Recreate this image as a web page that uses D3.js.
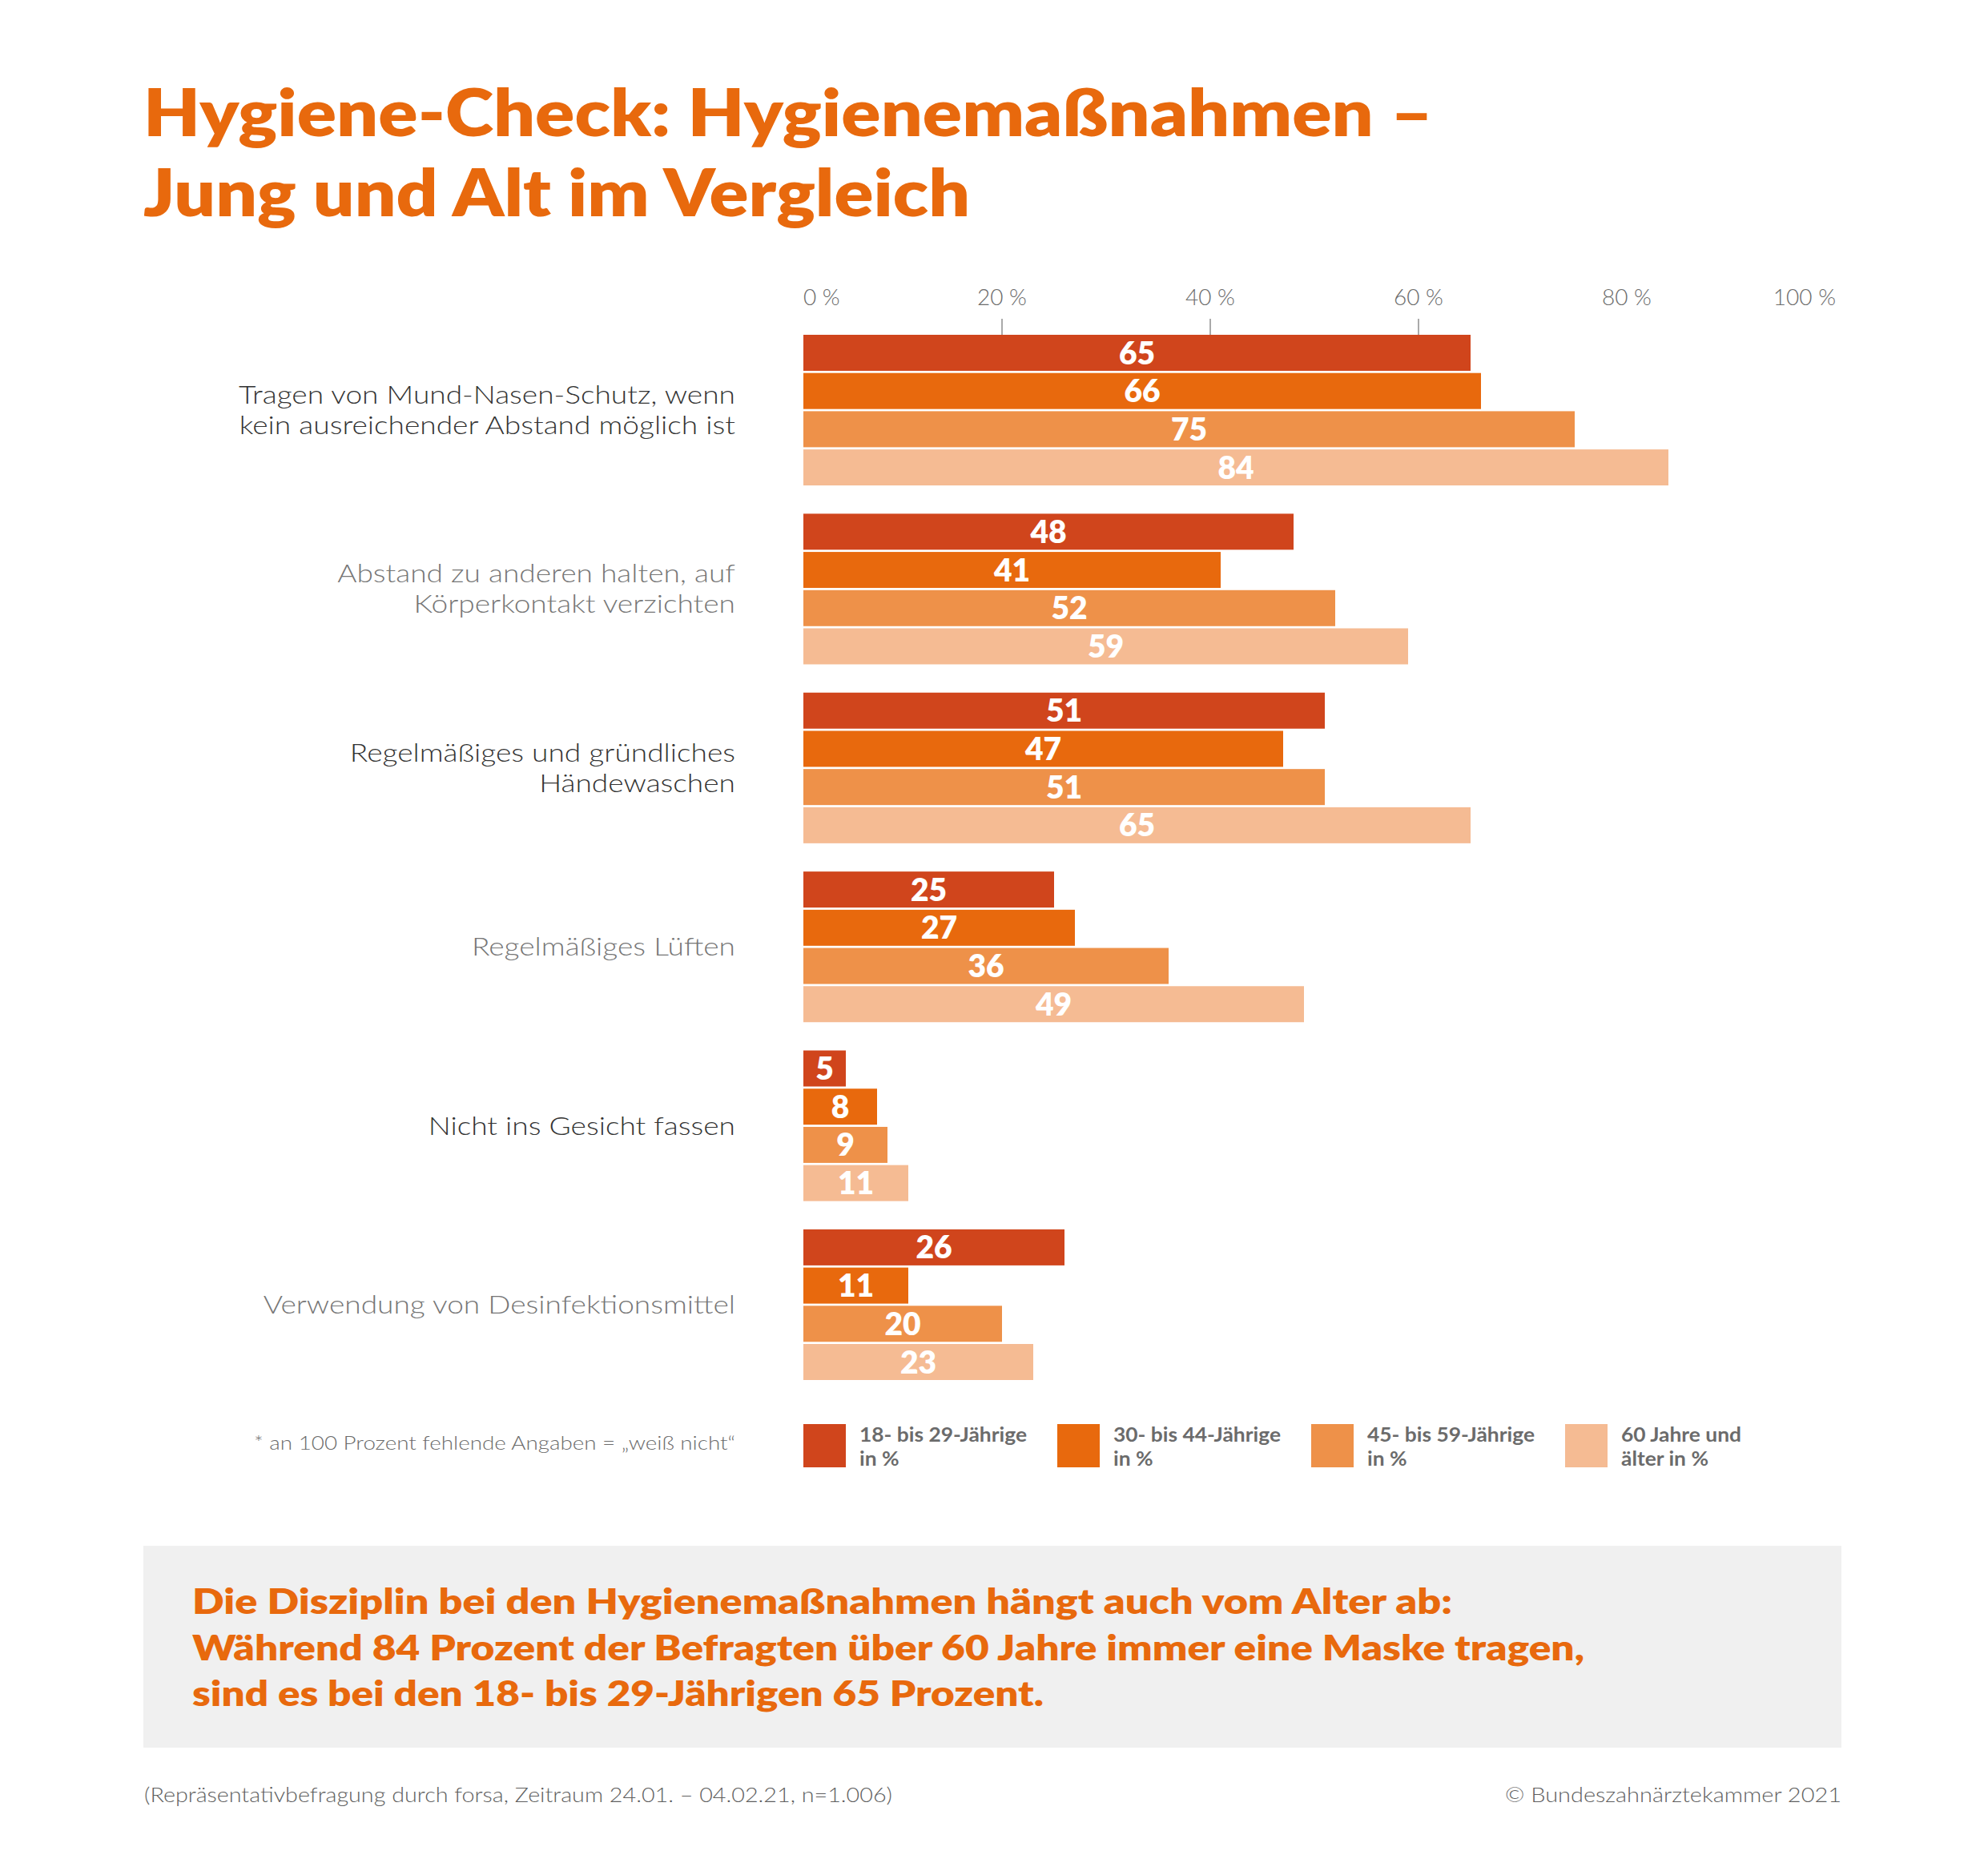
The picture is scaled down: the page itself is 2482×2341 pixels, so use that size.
<!DOCTYPE html>
<html>
<head>
<meta charset="utf-8">
<script src="https://cdn.jsdelivr.net/npm/d3@7"></script>
<style>
  html, body { margin: 0; padding: 0; background: #ffffff; }
  svg { display: block; }
</style>
</head>
<body>
<div id="chart"></div>
<script>
// ---------- DATA ----------
const categories = [
  "Tragen von Mund-Nasen-Schutz, wenn\nkein ausreichender Abstand möglich ist",
  "Abstand zu anderen halten, auf\nKörperkontakt verzichten",
  "Regelmäßiges und gründliches\nHändewaschen",
  "Regelmäßiges Lüften",
  "Nicht ins Gesicht fassen",
  "Verwendung von Desinfektionsmittel"
];
const seriesNames = [
  "18- bis 29-Jährige\nin %",
  "30- bis 44-Jährige\nin %",
  "45- bis 59-Jährige\nin %",
  "60 Jahre und\nälter in %"
];
const values18to29 = [65, 48, 51, 25, 5, 26];
const values30to44 = [66, 41, 47, 27, 8, 11];
const values45to59 = [75, 52, 51, 36, 9, 20];
const values60plus = [84, 59, 65, 49, 11, 23];
const tickValues = [0, 20, 40, 60, 80, 100];
const tickLabels = ["0 %", "20 %", "40 %", "60 %", "80 %", "100 %"];
const tickMarks = [20, 40, 60];

const titleLines = ["Hygiene-Check: Hygienemaßnahmen –", "Jung und Alt im Vergleich"];
const boxLines = [
  "Die Disziplin bei den Hygienemaßnahmen hängt auch vom Alter ab:",
  "Während 84 Prozent der Befragten über 60 Jahre immer eine Maske tragen,",
  "sind es bei den 18- bis 29-Jährigen 65 Prozent."
];
const footnote = "* an 100 Prozent fehlende Angaben = „weiß nicht“";
const sourceText = "(Repräsentativbefragung durch forsa, Zeitraum 24.01. – 04.02.21, n=1.006)";
const copyrightText = "© Bundeszahnärztekammer 2021";

const seriesValues = [values18to29, values30to44, values45to59, values60plus];

// ---------- STYLE ----------
const W = 2482, H = 2341;
const colors = ["#D0451C", "#E8690D", "#EE9149", "#F5BB93"];
const orange = "#E8690D";
const FONT = "Lato, 'Open Sans', 'DejaVu Sans', sans-serif";

const svg = d3.select("#chart").append("svg")
  .attr("width", W).attr("height", H)
  .style("background", "#fff");

function stretchTo(sel, target) {
  sel.each(function () {
    const L = this.getComputedTextLength();
    if (L > 0) d3.select(this).attr("textLength", target).attr("lengthAdjust", "spacingAndGlyphs");
  });
}
function stretchBy(sel, k) {
  sel.each(function () {
    const L = this.getComputedTextLength();
    if (L > 0) d3.select(this).attr("textLength", L * k).attr("lengthAdjust", "spacingAndGlyphs");
  });
}

// ---------- TITLE ----------
const titleWidths = [1610, 1032];
titleLines.forEach((t, i) => {
  const el = svg.append("text")
    .attr("x", 179).attr("y", 170 + i * 100)
    .attr("font-family", FONT).attr("font-weight", 800)
    .attr("font-size", 82).attr("fill", orange)
    .text(t);
  stretchTo(el, titleWidths[i]);
});

// ---------- SCALES ----------
const barBase = 1003;
const x = d3.scaleLinear().domain([0, 100]).range([991, 2291]);
const y0 = d3.scaleBand().domain(d3.range(categories.length))
  .range([418, 1723]).paddingInner(0.158).paddingOuter(0);
const y1 = d3.scaleBand().domain(d3.range(seriesValues.length))
  .range([0, y0.bandwidth()]).paddingInner(0.057).paddingOuter(0);

// ---------- AXIS (top) ----------
const axisG = svg.append("g");
axisG.selectAll("text.tick").data(tickValues).join("text")
  .attr("class", "tick")
  .attr("x", (d, i) => i === 0 ? barBase : (i === tickValues.length - 1 ? x(d) + 1 : x(d)))
  .attr("y", 381)
  .attr("text-anchor", (d, i) => i === 0 ? "start" : (i === tickValues.length - 1 ? "end" : "middle"))
  .attr("font-family", FONT).attr("font-weight", 300).attr("font-size", 28).attr("fill", "#6b6b6b")
  .text((d, i) => tickLabels[i]);
axisG.selectAll("line").data(tickMarks).join("line")
  .attr("x1", d => x(d)).attr("x2", d => x(d))
  .attr("y1", 398).attr("y2", 418)
  .attr("stroke", "#aaaaaa").attr("stroke-width", 2);

// ---------- BARS ----------
const groups = svg.append("g").selectAll("g").data(categories).join("g")
  .attr("transform", (d, i) => `translate(0,${y0(i)})`);

groups.each(function (cat, ci) {
  const g = d3.select(this);
  const rows = seriesValues.map((arr, si) => ({ si, v: arr[ci] }));
  g.selectAll("rect").data(rows).join("rect")
    .attr("x", barBase)
    .attr("y", d => y1(d.si))
    .attr("width", d => x(d.v) - barBase)
    .attr("height", y1.bandwidth())
    .attr("fill", d => colors[d.si]);
  g.selectAll("text.val").data(rows).join("text")
    .attr("class", "val")
    .attr("x", d => (barBase + x(d.v)) / 2)
    .attr("y", d => y1(d.si) + y1.bandwidth() / 2 + 14)
    .attr("text-anchor", "middle")
    .attr("font-family", FONT).attr("font-weight", 800)
    .attr("font-size", 39).attr("fill", "#ffffff")
    .text(d => d.v);
});

// ---------- CATEGORY LABELS ----------
const labelG = svg.append("g");
const catTexts = [];
categories.forEach((cat, ci) => {
  const lines = cat.split("\n");
  const cy = y0(ci) + y0.bandwidth() / 2;
  lines.forEach((ln, j) => {
    const t = labelG.append("text")
      .attr("x", 918)
      .attr("y", cy + (j - (lines.length - 1) / 2) * 38 + 11)
      .attr("text-anchor", "end")
      .attr("font-family", FONT).attr("font-weight", 300).attr("font-size", 31)
      .attr("fill", ci % 2 === 0 ? "#333333" : "#767676")
      .text(ln);
    catTexts.push(t);
  });
});
// uniform horizontal stretch so the reference line has its original width
const refLen = catTexts[0].node().getComputedTextLength();
const kCat = 620 / refLen;
catTexts.forEach(t => stretchBy(t, kCat));

// ---------- LEGEND ----------
const legendStep = 317;
const legend = svg.append("g").selectAll("g").data(seriesNames).join("g")
  .attr("transform", (d, i) => `translate(${barBase + i * legendStep},1778)`);
legend.append("rect")
  .attr("x", 0).attr("y", 0).attr("width", 53).attr("height", 54)
  .attr("fill", (d, i) => colors[i]);
const legTexts = [];
legend.each(function (d) {
  const g = d3.select(this);
  d.split("\n").forEach((ln, j) => {
    const t = g.append("text")
      .attr("x", 70).attr("y", 22 + j * 30)
      .attr("font-family", FONT).attr("font-weight", 700)
      .attr("font-size", 24).attr("fill", "#6b6b6b")
      .text(ln);
    legTexts.push(t);
  });
});
const kLeg = 209 / legTexts[0].node().getComputedTextLength();
legTexts.forEach(t => stretchBy(t, kLeg));

const fn = svg.append("text")
  .attr("x", 918).attr("y", 1810)
  .attr("text-anchor", "end")
  .attr("font-family", FONT).attr("font-weight", 300).attr("font-size", 23).attr("fill", "#6b6b6b")
  .text(footnote);
stretchTo(fn, 601);

// ---------- GREY BOX ----------
svg.append("rect")
  .attr("x", 179).attr("y", 1930).attr("width", 2120).attr("height", 252)
  .attr("fill", "#f0f0f0");
const boxWidths = [1573, 1738, 1063];
boxLines.forEach((ln, i) => {
  const t = svg.append("text")
    .attr("x", 240).attr("y", 2015 + i * 57.5)
    .attr("font-family", FONT).attr("font-weight", 800)
    .attr("font-size", 43).attr("fill", orange)
    .text(ln);
  stretchTo(t, boxWidths[i]);
});

// ---------- FOOTER ----------
const src = svg.append("text")
  .attr("x", 180).attr("y", 2250)
  .attr("font-family", FONT).attr("font-weight", 300).attr("font-size", 26).attr("fill", "#5f5f5f")
  .text(sourceText);
stretchTo(src, 934);
const cp = svg.append("text")
  .attr("x", 2299).attr("y", 2250).attr("text-anchor", "end")
  .attr("font-family", FONT).attr("font-weight", 300).attr("font-size", 26).attr("fill", "#5f5f5f")
  .text(copyrightText);
stretchTo(cp, 420);
</script>
</body>
</html>
